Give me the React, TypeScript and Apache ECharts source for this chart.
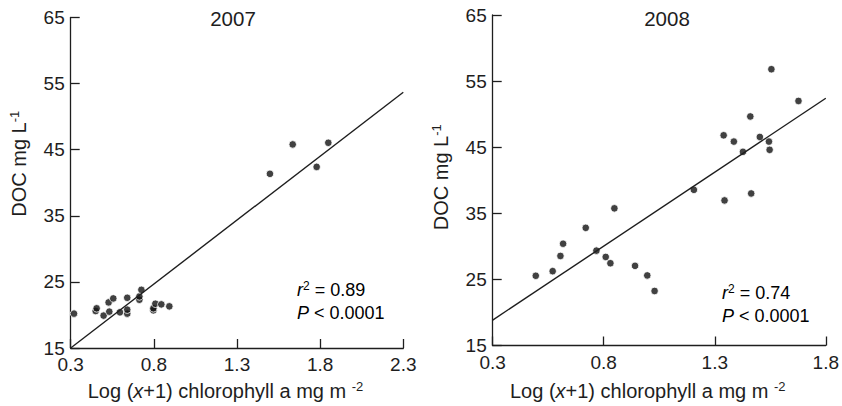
import React, { useEffect, useRef } from "react";
import * as echarts from "echarts";

// ---- data ----
const titles = ["2007", "2008"];
const yTicksMin = 15;
const yTicksMax = 65;
const yStep = 10;
const xMin2007 = 0.3;
const xMax2007 = 2.3;
const xMin2008 = 0.3;
const xMax2008 = 1.8;
const xStep = 0.5;

const chl2007 = [0.32, 0.45, 0.456, 0.498, 0.528, 0.532, 0.556, 0.596, 0.64, 0.64, 0.64, 0.713, 0.713, 0.725, 0.797, 0.797, 0.809, 0.845, 0.893, 1.498, 1.635, 1.779, 1.849];
const doc2007 = [20.2, 20.6, 21.0, 19.9, 21.9, 20.5, 22.5, 20.4, 22.6, 20.2, 20.8, 22.3, 22.8, 23.8, 20.7, 21.0, 21.7, 21.6, 21.3, 41.35, 45.8, 42.4, 46.05];

const chl2008 = [0.494, 0.57, 0.605, 0.617, 0.719, 0.767, 0.809, 0.83, 0.848, 0.941, 0.996, 1.029, 1.206, 1.34, 1.344, 1.386, 1.427, 1.46, 1.464, 1.503, 1.544, 1.547, 1.555, 1.677];
const doc2008 = [25.55, 26.25, 28.55, 30.4, 32.8, 29.35, 28.4, 27.45, 35.75, 27.05, 25.6, 23.25, 38.55, 46.8, 36.95, 45.85, 44.3, 49.65, 38.0, 46.55, 45.85, 44.6, 56.8, 52.0];

const fitX2007 = [0.3, 2.3];
const fitY2007 = [15.0, 53.7];
const fitX2008 = [0.3, 1.8];
const fitY2008 = [18.85, 52.4];

const stats2007 = { r2: "0.89", p: "0.0001" };
const stats2008 = { r2: "0.74", p: "0.0001" };

const FONT = "'Liberation Sans', Arial, Helvetica, sans-serif";
const INK = "#1e1e1e";

const zip = (xs: number[], ys: number[]) => xs.map((x, i) => [x, ys[i]]);

const richName = {
  a: { fontSize: 20, fontFamily: FONT, color: INK, lineHeight: 22 },
  i: { fontSize: 20, fontFamily: FONT, color: INK, fontStyle: "italic", lineHeight: 22 },
  s: { fontSize: 13, fontFamily: FONT, color: INK, lineHeight: 13, verticalAlign: "top" },
};

function xAxisCfg(gridIndex: number, min: number, max: number, gap: number) {
  return {
    type: "value",
    gridIndex,
    min,
    max,
    interval: xStep,
    name: "{a|Log (}{i|x}{a|+1) chlorophyll a mg m }{s|-2}",
    nameLocation: "middle",
    nameGap: gap,
    nameTextStyle: { rich: richName, padding: [0, 23, 0, 0] },
    axisLine: { show: true, lineStyle: { color: INK, width: 1.3 } },
    axisTick: { show: true, inside: true, length: 9, lineStyle: { color: INK, width: 1.3 } },
    axisLabel: {
      margin: 7,
      fontSize: 19,
      fontFamily: FONT,
      color: INK,
      formatter: (v: number) => v.toFixed(1),
    },
    splitLine: { show: false },
  };
}

function yAxisCfg(gridIndex: number, gap: number, shift: number) {
  return {
    type: "value",
    gridIndex,
    min: yTicksMin,
    max: yTicksMax,
    interval: yStep,
    name: "{a|DOC mg L}{s|-1}",
    nameLocation: "middle",
    nameRotate: 90,
    nameGap: gap,
    nameTextStyle: { rich: richName, padding: [0, 0, 0, shift] },
    axisLine: { show: true, lineStyle: { color: INK, width: 1.3 } },
    axisTick: { show: true, inside: true, length: 9, lineStyle: { color: INK, width: 1.3 } },
    axisLabel: { margin: 6, fontSize: 19, fontFamily: FONT, color: INK },
    splitLine: { show: false },
  };
}

const statRich = {
  a: { fontSize: 18, fontFamily: FONT, color: INK, lineHeight: 20 },
  i: { fontSize: 18, fontFamily: FONT, color: INK, fontStyle: "italic", lineHeight: 20 },
  s: { fontSize: 12, fontFamily: FONT, color: INK, lineHeight: 12, verticalAlign: "top" },
};

function statText(x: number, y: number, s: { r2: string; p: string }) {
  return [
    {
      type: "text",
      x,
      y,
      style: { text: `{i|r}{s|2}{a| = ${s.r2}}`, rich: statRich, verticalAlign: "middle" },
    },
    {
      type: "text",
      x,
      y: y + 23,
      style: { text: `{i|P}{a| < ${s.p}}`, rich: statRich, verticalAlign: "middle" },
    },
  ];
}

export default function App() {
  const ref = useRef<HTMLDivElement>(null);
  useEffect(() => {
    if (!ref.current) return;
    const chart = echarts.init(ref.current, undefined, { renderer: "svg" });
    const scatterStyle = {
      symbol: "circle",
      symbolSize: 7.5,
      itemStyle: { color: "#111", borderColor: "#fff", borderWidth: 1 },
    };
    const lineStyle = {
      showSymbol: false,
      symbol: "none",
      lineStyle: { color: INK, width: 1.4 },
    };
    chart.setOption({
      animation: false,
      backgroundColor: "#fff",
      grid: [
        { left: 70.7, top: 17.5, width: 332.6, height: 333.2, containLabel: false },
        { left: 492.7, top: 15, width: 333.3, height: 333.3, containLabel: false },
      ],
      xAxis: [xAxisCfg(0, xMin2007, xMax2007, 32), xAxisCfg(1, xMin2008, xMax2008, 34.5)],
      yAxis: [yAxisCfg(0, 41, 38), yAxisCfg(1, 41, 6)],
      series: [
        { type: "line", xAxisIndex: 0, yAxisIndex: 0, data: zip(fitX2007, fitY2007), ...lineStyle },
        { type: "scatter", xAxisIndex: 0, yAxisIndex: 0, data: zip(chl2007, doc2007), ...scatterStyle },
        { type: "line", xAxisIndex: 1, yAxisIndex: 1, data: zip(fitX2008, fitY2008), ...lineStyle },
        { type: "scatter", xAxisIndex: 1, yAxisIndex: 1, data: zip(chl2008, doc2008), ...scatterStyle },
      ],
      graphic: [
        {
          type: "text",
          x: 233,
          y: 18,
          style: { text: titles[0], fontSize: 20.5, fontFamily: FONT, fill: INK, align: "center", verticalAlign: "middle" },
        },
        {
          type: "text",
          x: 667,
          y: 18,
          style: { text: titles[1], fontSize: 20.5, fontFamily: FONT, fill: INK, align: "center", verticalAlign: "middle" },
        },
        ...statText(297, 290, stats2007),
        ...statText(722, 293, stats2008),
      ],
    });
    return () => chart.dispose();
  }, []);
  return <div ref={ref} style={{ width: 842, height: 406, position: "absolute", left: 0, top: 0 }} />;
}
